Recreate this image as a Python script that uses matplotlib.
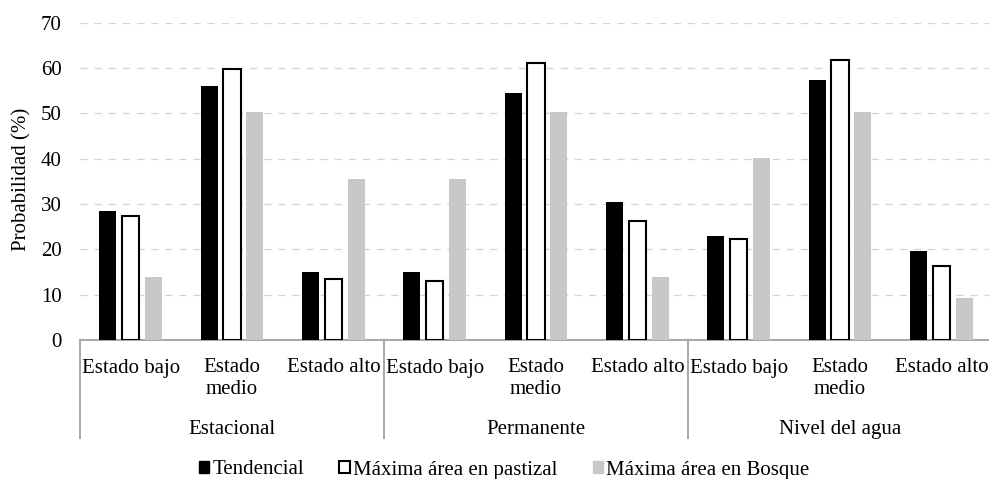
import numpy as np
import matplotlib
matplotlib.use("Agg")
import matplotlib.pyplot as plt
from matplotlib.patches import Patch
from matplotlib.transforms import blended_transform_factory

plt.rcParams['font.family'] = ['Liberation Serif', 'DejaVu Serif']

# datos
grupos = ['Estacional', 'Permanente', 'Nivel del agua']
estados = ['Estado bajo', 'Estado\nmedio', 'Estado alto']
tendencial = [28.5, 56.1, 14.9, 14.9, 54.6, 30.4, 22.9, 57.3, 19.6]
pastizal = [27.4, 59.7, 13.4, 13.1, 61.0, 26.3, 22.3, 61.7, 16.3]
bosque = [14.0, 50.4, 35.5, 35.5, 50.4, 14.0, 40.1, 50.4, 9.3]
series = ['Tendencial', 'Máxima área en pastizal', 'Máxima área en Bosque']
yticks = [0, 10, 20, 30, 40, 50, 60, 70]

W, H = 989, 479
fig = plt.figure(figsize=(W / 100, H / 100), dpi=100)
ax_top, ax_bot = 22.7, 340.0
ax = fig.add_axes([80 / W, 1 - ax_bot / H, 912 / W, (ax_bot - ax_top) / H])


def py(p):
    # fila de pixel -> coordenada y de ejes
    return (ax_bot - p) / (ax_bot - ax_top)


x = np.arange(len(tendencial))
bw = 0.17
off = 0.225
gris = '#a6a6a6'
ax.bar(x - off, tendencial, bw, color='black', zorder=3)
ax.bar(x, pastizal, bw, color='white', edgecolor='black', linewidth=1.5, zorder=3)
ax.bar(x + off, bosque, bw, color='#c8c8c8', zorder=3)

ax.set_xlim(-0.5, 8.5)
ax.set_ylim(0, 70)
ax.set_yticks(yticks)
ax.set_yticklabels([str(t) for t in yticks], fontsize=15)
ax.tick_params(axis='y', length=0, pad=13)
ax.set_xticks([])
ax.yaxis.grid(True, color='#d4d4d4', linestyle=(0, (5.8, 5.5)), linewidth=0.9)
ax.set_axisbelow(True)
for s in ['top', 'right', 'left']:
    ax.spines[s].set_visible(False)
ax.spines['bottom'].set_color(gris)
ax.spines['bottom'].set_linewidth(1.4)

trans = blended_transform_factory(ax.transData, ax.transAxes)
# etiquetas de categorias
for i in range(len(x)):
    ax.text(i, py(358.5), estados[i % 3], transform=trans, ha='center', va='top',
            fontsize=15, clip_on=False)
# etiquetas de grupos
for g, nombre in enumerate(grupos):
    ax.text(3 * g + 1, py(434), nombre, transform=trans, ha='center',
            va='baseline', fontsize=15, clip_on=False)
# separadores
for xs in [-0.5, 2.5, 5.5, 8.5]:
    ax.plot([xs, xs], [0, py(439)], transform=trans, color=gris, lw=1.4,
            clip_on=False, solid_capstyle='butt')

fig.text(22 / W, 1 - 179 / H, 'Probabilidad (%)', rotation=90, ha='center',
         va='center', fontsize=15)

handles = [Patch(facecolor='black', edgecolor='black'),
           Patch(facecolor='white', edgecolor='black', linewidth=1.5),
           Patch(facecolor='#c8c8c8', edgecolor='#c8c8c8')]
fig.legend(handles, series, loc='center', bbox_to_anchor=(504 / W, 1 - 470 / H),
           ncol=3, frameon=False, fontsize=15, handlelength=0.5, handleheight=0.5,
           handletextpad=0.15, columnspacing=1.7, borderpad=0, borderaxespad=0)

fig.savefig('out.png', dpi=100)
